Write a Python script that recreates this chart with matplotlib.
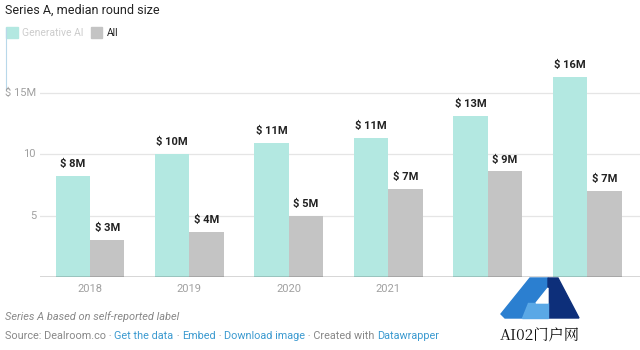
import matplotlib.pyplot as plt
from matplotlib.patches import Polygon

plt.rcParams['font.family'] = ['Roboto', 'DejaVu Sans']

years = ["2018", "2019", "2020", "2021", "", ""]
gen_ai = [8.2, 10.0, 10.9, 11.3, 13.1, 16.3]
all_rounds = [3.0, 3.7, 5.0, 7.2, 8.6, 7.0]
yticks = [5, 10, 15]
ytick_labels = ["5", "10", "$ 15M"]

TEAL = "#b3e8e1"
GREY = "#c4c4c4"
W, H = 640, 350

fig = plt.figure(figsize=(6.4, 3.5), dpi=100)

# main plot area placed in pixel units
left, right, base, top = 40, 640, 277, 62
ax = fig.add_axes([left / W, (H - base) / H, (right - left) / W, (base - top) / H])
ax.set_xlim(-0.503, 5.533)
ax.set_ylim(0, (base - top) / 12.27)
ax.axis("off")

for y in yticks:
    ax.axhline(y, color="#e5e5e5", lw=0.9, zorder=0)
ax.axhline(0, color="#333333", lw=1.0, zorder=3)

bw = 0.347
for i, (g, a) in enumerate(zip(gen_ai, all_rounds)):
    ax.bar(i - bw / 2, g, width=bw, color=TEAL, zorder=2)
    ax.bar(i + bw / 2, a, width=bw, color=GREY, zorder=2)
    for x, v in ((i - bw / 2, g), (i + bw / 2, a)):
        ax.annotate(f"$ {v:.0f}M", (x, v), xytext=(0, 5), textcoords="offset points",
                    ha="center", va="bottom", fontsize=8, fontweight="bold",
                    color="#222222")
    ax.text(i, -12 / 12.27, years[i], ha="center", va="center",
            fontsize=8, color="#a0a0a0")

# overlay in pixel coordinates for header, footer and ticks
ov = fig.add_axes([0, 0, 1, 1], zorder=5)
ov.set_xlim(0, W)
ov.set_ylim(H, 0)
ov.axis("off")

for y, lab in zip(yticks, ytick_labels):
    py = base - y * 12.27
    if lab.startswith("$"):
        ov.text(5, py, lab, ha="left", va="center", fontsize=8, color="#a0a0a0")
    else:
        ov.text(36, py, lab, ha="right", va="center", fontsize=8, color="#a0a0a0")

ov.plot([6, 6], [28, 90], color="#b8d8ea", lw=0.8)

ov.text(5, 10, "Series A, median round size", ha="left", va="center",
        fontsize=9, color="#222222")
ov.add_patch(Polygon([(6, 27), (18, 27), (18, 38), (6, 38)], color=TEAL))
ov.text(22, 33, "Generative AI", ha="left", va="center", fontsize=7.5, color="#cccccc")
ov.add_patch(Polygon([(91, 27), (102, 27), (102, 38), (91, 38)], color=GREY))
ov.text(107, 33, "All", ha="left", va="center", fontsize=7.5, color="#222222")

ov.text(5, 317, "Series A based on self-reported label", ha="left", va="center",
        fontsize=7.9, style="italic", color="#888888")

renderer = fig.canvas.get_renderer()
pieces = [("Source: Dealroom.co \u00b7 ", "#888888"), ("Get the data", "#3b9ad0"),
          (" \u00b7 ", "#888888"), ("Embed", "#3b9ad0"), (" \u00b7 ", "#888888"),
          ("Download image", "#3b9ad0"), (" \u00b7 Created with ", "#888888"),
          ("Datawrapper", "#3b9ad0")]
x = 5
for s, c in pieces:
    t = ov.text(x, 336, s, ha="left", va="center", fontsize=7.8, color=c)
    x += t.get_window_extent(renderer).width

# watermark logo
ov.add_patch(Polygon([(501, 314), (530, 278), (548, 278), (548, 288), (536, 303),
                      (528, 303), (522, 318), (505, 318)], color="#2b7fd0", zorder=6))
ov.add_patch(Polygon([(548, 278), (558, 278), (579, 318), (548, 318)],
                     color="#0d2f7a", zorder=6))
ov.add_patch(Polygon([(528, 303), (548, 303), (548, 318), (522, 318)],
                     color="#5aa8e6", zorder=6))
ov.add_patch(Polygon([(536, 303), (548, 288), (548, 303)], color="white", zorder=7))
ov.text(540, 336, "AI02门户网", ha="center", va="center", fontsize=11,
        family=["Noto Serif CJK SC", "Noto Sans CJK SC", "DejaVu Serif"],
        color="#111111", zorder=7)

fig.savefig("out.png", dpi=100)
